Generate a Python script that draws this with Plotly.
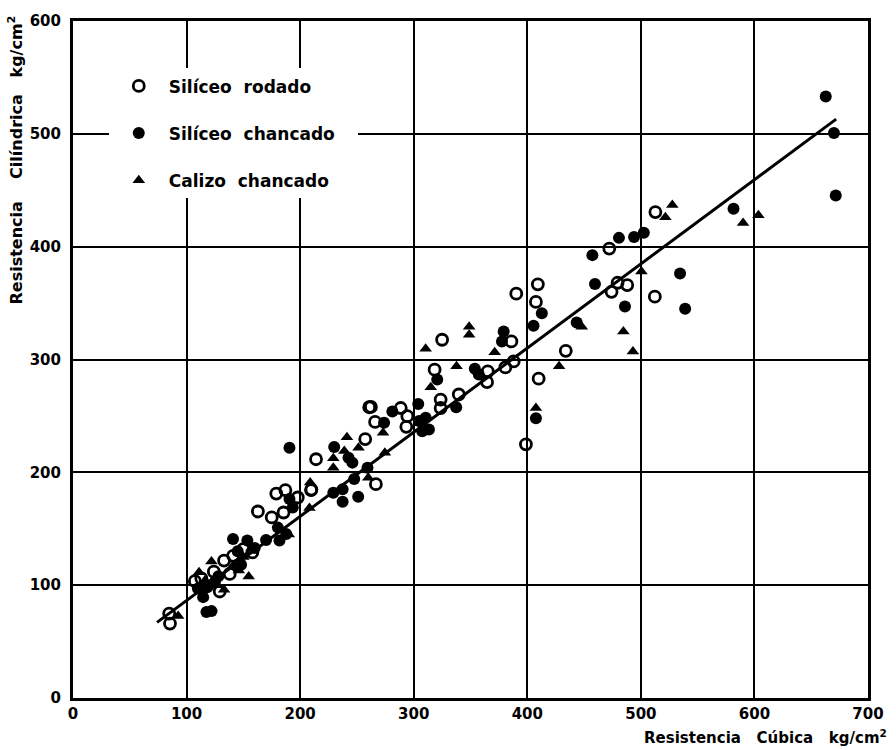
import plotly.graph_objects as go

# Silíceo rodado (open circles)
rodado_x = [84.7, 85.4, 107.3, 113, 118, 124, 129.2, 133, 138, 141, 146, 150, 157.9, 162.8,
            175, 179, 185.4, 187, 197.9, 209.6, 214, 209.9, 260.8, 257.3, 266, 266.7, 262.3,
            288.6, 294.4, 293.5, 318.4, 323.7, 323.7, 325, 339.7, 364.6, 365.2, 380.7, 386,
            388, 390.3, 398.8, 407.6, 409.3, 410, 433.9, 472.2, 474.2, 479.5, 488, 512.3, 512.8]
rodado_y = [74.8, 66, 103.5, 106, 99, 112, 94.4, 121.8, 110, 126, 118, 132, 129, 165.3,
            160, 181.2, 164.4, 184.2, 177.7, 184.2, 211.6, 184.7, 257.7, 229.5, 244.7, 189.5, 258,
            257, 249.8, 240.3, 291, 264.5, 257, 317.5, 269, 280, 289.5, 293, 316,
            298.3, 358.3, 224.8, 351, 366.6, 283, 307.7, 398.3, 360, 368, 366, 355.7, 430.7]

# Silíceo chancado (filled circles)
chancado_x = [114.6, 117.5, 122, 110, 119, 125, 128, 140.9, 145, 148, 153.5, 160, 170, 180.4,
              181.8, 187.7, 193.5, 190.6, 190.6, 230, 242.6, 246, 259.3, 247.6, 229.2, 237.4,
              237.4, 251.1, 273.9, 281.2, 304, 304.7, 310.5, 307.5, 313.4, 320.7, 337.4, 353.8,
              357.3, 377.7, 379.2, 405.5, 412.8, 407.6, 443.5, 457.3, 459.6, 480.7, 494, 502.6,
              534.5, 486, 539, 581.6, 662.8, 670, 671.6]
chancado_y = [89.4, 76.2, 77, 97, 100, 103, 108, 141, 130, 118, 139.5, 133, 140, 151,
              139.5, 145.4, 168.8, 176.3, 221.8, 222.4, 213, 208.6, 204, 194, 182, 185,
              174, 178.3, 243.9, 254, 260.6, 245.4, 248.3, 236.5, 238, 282.2, 257.7, 291.8,
              286.6, 316, 324.8, 330, 341, 248, 332.7, 392.5, 366.9, 407.8, 408.6, 412.4,
              376.3, 346.9, 345, 433.6, 533, 500.7, 445.4]

# Calizo chancado (triangles)
calizo_x = [92.6, 111, 116, 121.9, 127, 133, 140, 146, 154.7, 150, 190, 208.2, 208.8, 229.2,
            229.2, 238.9, 241.2, 251.4, 260, 273, 274.6, 310.5, 315, 337.7, 348.8, 348.8,
            371.3, 407.6, 428, 448, 484.6, 493, 500.5, 521.6, 527.7, 590, 603.5]
calizo_y = [72.6, 111.5, 104, 121, 100, 96, 116, 113, 107.7, 125, 145, 168.3, 191, 212.4,
            204, 218.9, 231.2, 221.8, 195.3, 235, 217.4, 309.5, 275.4, 294, 329, 322,
            306.5, 257, 294, 329, 324.8, 307, 378, 426, 437, 421, 427.8]

# Fitted line end points
fit_x = [74, 672]
fit_y = [67, 513]

x_ticks = [0, 100, 200, 300, 400, 500, 600, 700]
y_ticks = [0, 100, 200, 300, 400, 500, 600]

FONT = "DejaVu Sans"


def bold(s):
    return "<b>" + s + "</b>"


fig = go.Figure()

fig.add_trace(go.Scatter(
    x=fit_x, y=fit_y, mode="lines", line=dict(color="black", width=3),
    showlegend=False, hoverinfo="skip"))

fig.add_trace(go.Scatter(
    x=rodado_x, y=rodado_y, mode="markers", name=bold("Silíceo&nbsp;&nbsp;rodado"),
    legendgroup="a",
    marker=dict(symbol="circle-open", size=11, color="black", line=dict(width=2.8))))

fig.add_trace(go.Scatter(
    x=chancado_x, y=chancado_y, mode="markers",
    name=bold("Silíceo&nbsp;&nbsp;chancado&nbsp;&nbsp;&nbsp;"),
    legendgroup="b",
    marker=dict(symbol="circle", size=12, color="black")))

fig.add_trace(go.Scatter(
    x=calizo_x, y=calizo_y, mode="markers", name=bold("Calizo&nbsp;&nbsp;chancado"),
    legendgroup="c",
    marker=dict(symbol="triangle-up", size=11, color="black")))

axis_common = dict(
    showgrid=True, gridcolor="black", gridwidth=2,
    showline=True, linecolor="black", linewidth=3, mirror=True,
    zeroline=False, ticks="", color="black",
    tickfont=dict(family=FONT, size=15, color="black"),
)

fig.update_xaxes(range=[0, 700], tickvals=x_ticks, ticktext=[bold(str(v)) for v in x_ticks],
                 **axis_common)
fig.update_yaxes(range=[0, 600], tickvals=y_ticks, ticktext=[bold(str(v)) for v in y_ticks],
                 ticklabelstandoff=6, **axis_common)

fig.add_annotation(
    text=bold("Resistencia&nbsp;&nbsp;&nbsp;&nbsp;Cilíndrica&nbsp;&nbsp;&nbsp;kg/cm<sup>2</sup>"),
    xref="paper", yref="paper", x=-0.072, y=0.795, textangle=-90,
    xanchor="center", yanchor="middle", showarrow=False,
    font=dict(family=FONT, size=16, color="black"))

fig.add_annotation(
    text=bold("Resistencia&nbsp;&nbsp;&nbsp;Cúbica&nbsp;&nbsp;&nbsp;kg/cm<sup>2</sup>"),
    xref="paper", yref="paper", x=1.026, y=-0.057,
    xanchor="right", yanchor="middle", showarrow=False,
    font=dict(family=FONT, size=15, color="black"))

fig.update_layout(
    width=896, height=750,
    margin=dict(l=73, r=27, t=18, b=52),
    paper_bgcolor="white", plot_bgcolor="white",
    legend=dict(
        x=0.045, y=0.93, xanchor="left", yanchor="top",
        bgcolor="white", borderwidth=0,
        font=dict(family=FONT, size=17, color="black"),
        tracegroupgap=22, itemsizing="trace", itemwidth=50,
    ),
)

fig.write_html("out.html")
